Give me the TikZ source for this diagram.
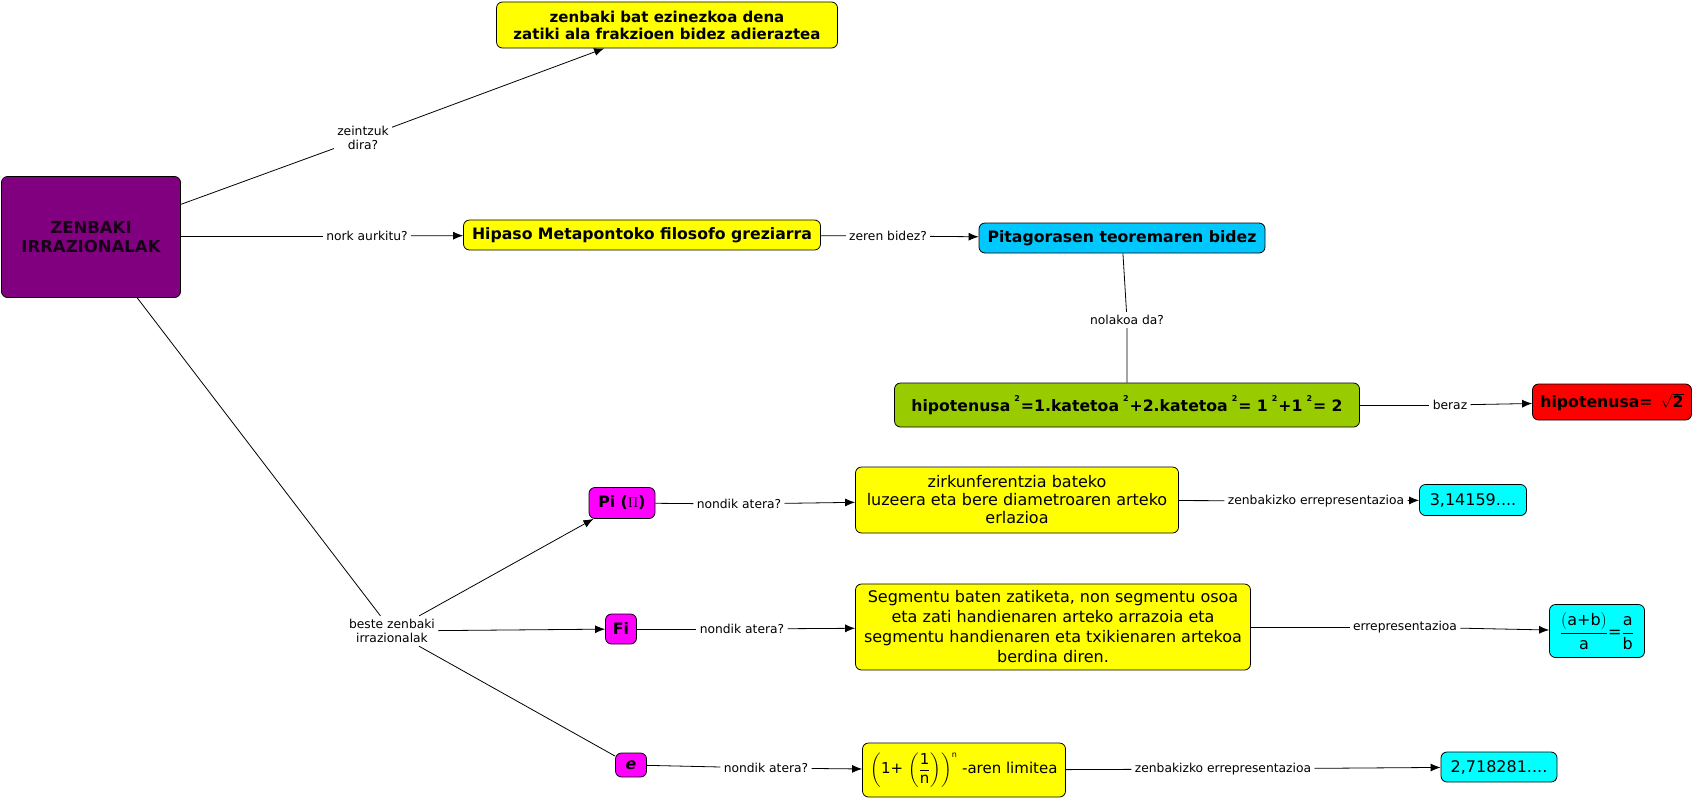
\documentclass[tikz,border=0pt]{standalone}
\usepackage{amsmath}
\usepackage{fontspec}
\setmainfont{DejaVu Sans}
\usetikzlibrary{arrows.meta}
\definecolor{morea}{HTML}{800080}
\definecolor{urdina}{HTML}{00C8FF}
\definecolor{berdea}{HTML}{99CC00}
\definecolor{horia}{HTML}{FFFF00}
\definecolor{gorria}{HTML}{FF0000}
\definecolor{arrosa}{HTML}{FF00FF}
\definecolor{ziana}{HTML}{00FFFF}
\newcommand\karratu{\hspace{4pt}\raisebox{1.1ex}{\fontsize{8}{8}\selectfont 2}\hspace{1pt}}
\begin{document}
\begin{tikzpicture}
	[x=1pt,y=-1pt,>={Latex[length=10pt,width=8pt]},line width=0.8pt,
	box/.style={draw,rounded corners=6pt,inner sep=3pt,align=center,font=\fontsize{15.7}{18}\selectfont\bfseries},
	txtbox/.style={box,font=\fontsize{16}{19}\selectfont},
	lbl/.style={inner sep=3pt,align=center,font=\fontsize{12.3}{14}\selectfont}]
\useasboundingbox (0,0) rectangle (1693,801);
% kontzeptuak
\node[box,fill=morea,text=black!80!morea,minimum width=179pt,minimum height=121pt,font=\fontsize{16.5}{19}\selectfont\bfseries] (main) at (91,237) {ZENBAKI\\IRRAZIONALAK};
\node[box,fill=horia,minimum width=341pt,minimum height=46pt,font=\fontsize{15}{17}\selectfont\bfseries] (zatiki) at (667,25) {zenbaki bat ezinezkoa dena\\zatiki ala frakzioen bidez adieraztea};
\node[box,fill=horia,minimum width=357pt,minimum height=30pt] (hipaso) at (642,235) {Hipaso Metapontoko filosofo greziarra};
\node[box,fill=urdina,minimum width=286pt,minimum height=30pt] (pitagoras) at (1122,238) {Pitagorasen teoremaren bidez};
\node[box,fill=berdea,minimum width=465pt,minimum height=44pt] (hipotenusa) at (1127,405) {hipotenusa\karratu=1.katetoa\karratu+2.katetoa\karratu= 1\karratu+1\karratu= 2};
\node[box,fill=gorria,minimum width=159pt,minimum height=36pt] (erroa) at (1612,402) {hipotenusa= \,$\sqrt{\mbox{\bfseries 2}}$};
\node[box,fill=arrosa,minimum width=66pt,minimum height=31pt] (pi) at (622,503) {Pi ($\Pi$)};
\node[box,fill=arrosa,minimum width=31pt,minimum height=30pt] (fi) at (621,629) {Fi};
\node[box,fill=arrosa,minimum width=31pt,minimum height=24pt,font=\fontsize{15.7}{18}\selectfont\bfseries\itshape] (e) at (631,765) {e};
\node[txtbox,fill=horia,minimum width=323pt,minimum height=66pt,font=\fontsize{16}{18}\selectfont] (zirk) at (1017,500) {zirkunferentzia bateko\\luzeera eta bere diametroaren arteko\\erlazioa};
\node[txtbox,fill=horia,minimum width=395pt,minimum height=86pt,font=\fontsize{16}{20}\selectfont] (segmentu) at (1053,627) {Segmentu baten zatiketa, non segmentu osoa\\eta zati handienaren arteko arrazoia eta\\segmentu handienaren eta txikienaren artekoa\\berdina diren.};
\node[txtbox,fill=horia,minimum width=203pt,minimum height=54pt,inner sep=2pt,font=\fontsize{15}{18}\selectfont] (limitea) at (964,770) {$\left(\mbox{1+}\,\left(\dfrac{\mbox{1}}{\mbox{n}}\right)\right)^{\mbox{\fontsize{8}{8}\selectfont n}}$ -aren limitea};
\node[txtbox,fill=ziana,minimum width=107pt,minimum height=31pt] (pibalioa) at (1473,500) {3,14159....};
\node[txtbox,fill=ziana,minimum width=95pt,minimum height=53pt] (zatidura) at (1597,631) {$\dfrac{\left(\mbox{a+b}\right)}{\mbox{a}}\mbox{=}\dfrac{\mbox{a}}{\mbox{b}}$};
\node[txtbox,fill=ziana,minimum width=116pt,minimum height=30pt] (ebalioa) at (1499,767) {2,718281....};
% loturak
\node[lbl] (zeintzuk) at (363,138) {zeintzuk\\dira?};
\node[lbl] (nork) at (367,236) {nork aurkitu?};
\node[lbl] (zeren) at (888,236) {zeren bidez?};
\node[lbl] (nolakoa) at (1127,320) {nolakoa da?};
\node[lbl] (beraz) at (1450,405) {beraz};
\node[lbl] (beste) at (392,631) {beste zenbaki\\irrazionalak};
\node[lbl] (nondik1) at (739,504) {nondik atera?};
\node[lbl] (nondik2) at (742,629) {nondik atera?};
\node[lbl] (nondik3) at (766,768) {nondik atera?};
\node[lbl] (zenbakizko1) at (1316,501) {zenbakizko errepresentazioa};
\node[lbl] (errepr) at (1405,627) {errepresentazioa};
\node[lbl] (zenbakizko2) at (1223,769) {zenbakizko errepresentazioa};
\draw (main)--(zeintzuk) (zeintzuk) edge[->] (zatiki);
\draw (main.east|-nork)--(nork) (nork) edge[->] (hipaso);
\draw (hipaso)--(zeren) (zeren) edge[->] (pitagoras);
\draw (pitagoras)--(nolakoa) (nolakoa)--(hipotenusa);
\draw (hipotenusa)--(beraz) (beraz) edge[->] (erroa);
\draw (main)--(beste);
\draw (beste) edge[->] (pi) (beste) edge[->] (fi) (beste)--(e);
\draw (pi)--(nondik1) (nondik1) edge[->] (zirk);
\draw (zirk)--(zenbakizko1) (zenbakizko1) edge[->] (pibalioa);
\draw (fi)--(nondik2) (nondik2) edge[->] (segmentu);
\draw (segmentu)--(errepr) (errepr) edge[->] (zatidura);
\draw (e)--(nondik3) (nondik3) edge[->] (limitea);
\draw (limitea)--(zenbakizko2) (zenbakizko2) edge[->] (ebalioa);
\end{tikzpicture}
\end{document}
